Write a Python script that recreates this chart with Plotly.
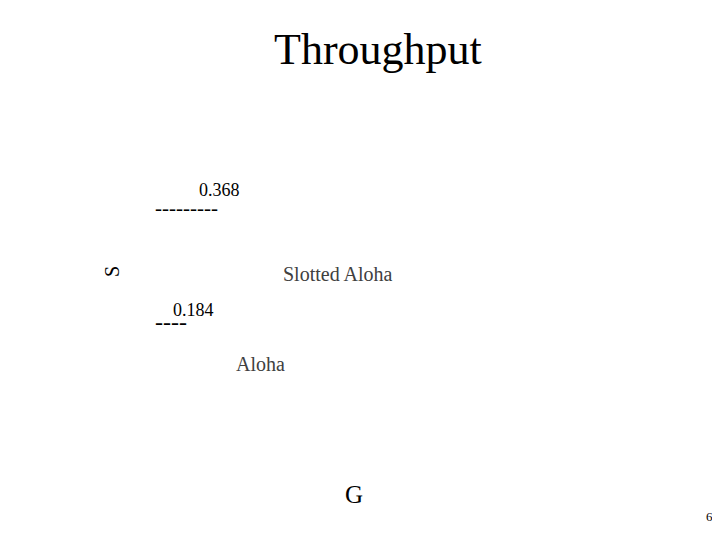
import plotly.graph_objects as go

W, H = 720, 540
title_text = "Throughput"
protocols = ["Slotted Aloha", "Aloha"]
s_max = [0.368, 0.184]
dash_marks = ["---------", "----"]
x_label = "G"
y_label = "S"
page_number = "6"

FONT = "Liberation Serif, Times New Roman, serif"
OFF = 8  # page body margin offset

def px(x, y):
    return (x - OFF) / W, 1 - (y - OFF) / H

anns = []
def add(text, x, y, size, color="black", xanchor="left", angle=0):
    xp, yp = px(x, y)
    anns.append(dict(text=text, x=xp, y=yp, xref="paper", yref="paper",
                     xanchor=xanchor, yanchor="middle", showarrow=False,
                     textangle=angle, borderpad=0,
                     font=dict(family=FONT, size=size, color=color)))

add(title_text, 378, 50, 44, xanchor="center")
add(f"{s_max[0]:.3f}", 198, 190, 18)
add(dash_marks[0], 154, 208, 21)
add(protocols[0], 282, 274, 20, color="#404040")
add(f"{s_max[1]:.3f}", 172, 310, 18)
add(dash_marks[1], 154, 322, 24)
add(protocols[1], 235, 364, 20, color="#404040")
add(y_label, 112, 271, 20, xanchor="center", angle=-90)
add(x_label, 354, 494, 25, xanchor="center")
add(page_number, 709, 517, 13, xanchor="center")

fig = go.Figure()
fig.update_layout(
    width=W, height=H, margin=dict(l=0, r=0, t=0, b=0),
    paper_bgcolor="white", plot_bgcolor="white",
    xaxis=dict(visible=False), yaxis=dict(visible=False),
    annotations=anns, showlegend=False,
)
fig.write_html("out.html")
